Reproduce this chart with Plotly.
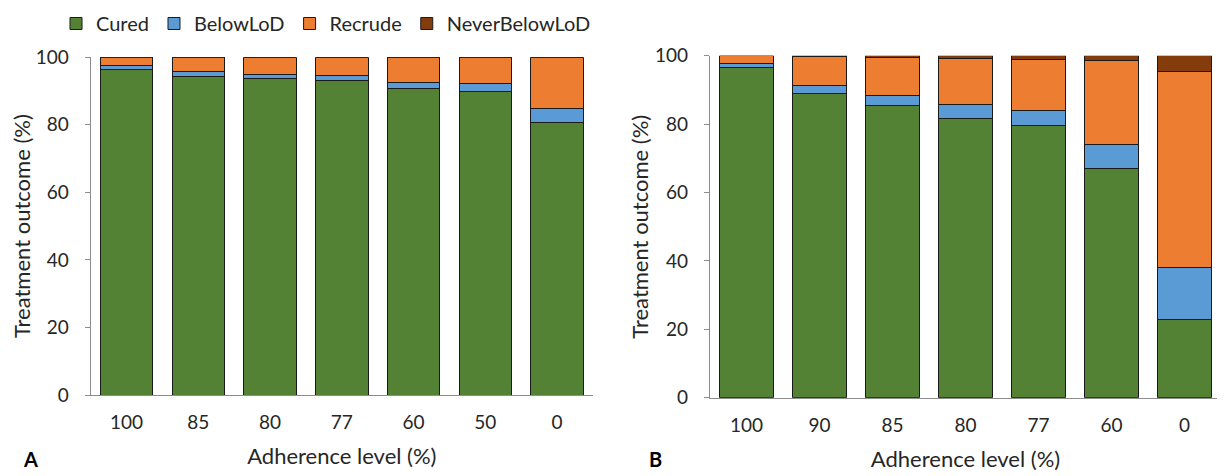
import plotly.graph_objects as go

# ---- data ----
series_names = ["Cured", "BelowLoD", "Recrude", "NeverBelowLoD"]
series_colors = ["#548235", "#5B9BD5", "#ED7D31", "#843C0C"]

cats_A = ["100", "85", "80", "77", "60", "50", "0"]
A_cured = [96.3, 94.3, 93.6, 93.2, 90.8, 90.0, 80.6]
A_below = [1.2, 1.5, 1.4, 1.4, 1.7, 2.1, 4.1]
A_recrude = [2.5, 4.2, 5.0, 5.4, 7.5, 7.9, 15.3]
A_never = [0, 0, 0, 0, 0, 0, 0]

cats_B = ["100", "90", "85", "80", "77", "60", "0"]
B_cured = [96.6, 89.0, 85.3, 81.5, 79.5, 67.1, 22.8]
B_below = [1.0, 2.4, 3.1, 4.1, 4.4, 7.0, 15.4]
B_recrude = [2.4, 8.4, 11.1, 13.7, 15.1, 24.4, 57.2]
B_never = [0.0, 0.2, 0.5, 0.7, 1.0, 1.5, 4.6]

y_ticks = [0, 20, 40, 60, 80, 100]

# page body has an 8px margin, so the figure is 8px smaller and offset
OFF = 8
W, H = 1225 - OFF, 476 - OFF
FONT = "Lato"
TXT = "#262626"
AX = "#8c8c8c"

fig = go.Figure()
A_vals = [A_cured, A_below, A_recrude, A_never]
B_vals = [B_cured, B_below, B_recrude, B_never]
for i, name in enumerate(series_names):
    fig.add_trace(go.Bar(x=cats_A, y=A_vals[i], name=name, legendgroup=name,
                         marker=dict(color=series_colors[i], line=dict(color="#1a1a1a", width=1)),
                         xaxis="x", yaxis="y", showlegend=True))
for i, name in enumerate(series_names):
    fig.add_trace(go.Bar(x=cats_B, y=B_vals[i], name=name, legendgroup=name,
                         marker=dict(color=series_colors[i], line=dict(color="#1a1a1a", width=1)),
                         xaxis="x2", yaxis="y2", showlegend=False))

def px_x(p):
    return (p - OFF) / W

def px_y(p):
    return (H - (p - OFF)) / H

TICKF = dict(family=FONT, size=19, color=TXT)
TITLEF = dict(family=FONT, size=22, color=TXT)

xcommon = dict(type="category", showline=True, linecolor=AX, linewidth=1.3, ticks="",
               showgrid=False, zeroline=False, tickfont=TICKF,
               ticklabelstandoff=10,
               title=dict(text="Adherence level (%)", font=TITLEF, standoff=16))
ycommon = dict(range=[0, 100], tickvals=y_ticks, showline=True, linecolor=AX, linewidth=1.3,
               ticks="outside", ticklen=5, tickcolor=AX, showgrid=False, zeroline=False,
               tickfont=TICKF, ticklabelstandoff=12,
               title=dict(text="Treatment outcome (%)", font=TITLEF, standoff=0))

fig.update_layout(
    width=W, height=H,
    margin=dict(l=0, r=0, t=0, b=0, autoexpand=False),
    paper_bgcolor="white", plot_bgcolor="white",
    barmode="stack", bargap=0.27,
    font=dict(family=FONT, size=19, color=TXT),
    xaxis=dict(domain=[px_x(90.7), px_x(593)], anchor="y", automargin=False, **xcommon),
    yaxis=dict(domain=[px_y(395), px_y(57.3)], anchor="x", automargin=False, **ycommon),
    xaxis2=dict(domain=[px_x(710), px_x(1221)], anchor="y2", automargin=False, **xcommon),
    yaxis2=dict(domain=[px_y(397.7), px_y(55.7)], anchor="x2", automargin=False, **ycommon),
    legend=dict(orientation="h", x=px_x(56), xanchor="left", y=px_y(4), yanchor="top",
                font=dict(family=FONT, size=20, color=TXT), bgcolor="rgba(0,0,0,0)",
                traceorder="normal", itemwidth=30),
    annotations=[
        dict(text="<b>A</b>", x=px_x(30), y=px_y(459), xref="paper", yref="paper",
             xanchor="center", yanchor="middle",
             showarrow=False, font=dict(family=FONT, size=20, color="#000")),
        dict(text="<b>B</b>", x=px_x(655), y=px_y(459), xref="paper", yref="paper",
             xanchor="center", yanchor="middle",
             showarrow=False, font=dict(family=FONT, size=20, color="#000")),
    ],
)

fig.write_html("out.html")
